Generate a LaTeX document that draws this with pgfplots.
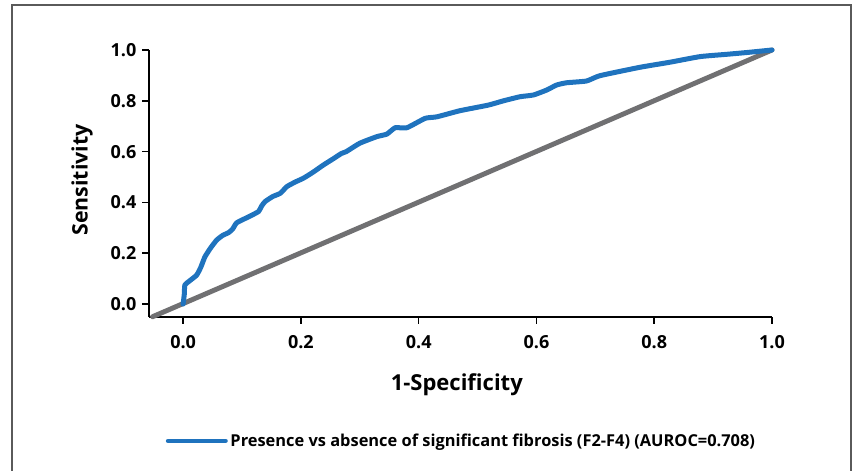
\documentclass[border=0pt]{standalone}
\usepackage{fontspec}
\setmainfont{Open Sans}
\usepackage{pgfplots}
\pgfplotsset{compat=1.18}
\definecolor{rocblue}{RGB}{31,115,190}
\definecolor{refgray}{RGB}{112,112,114}
\definecolor{framegray}{RGB}{90,90,90}
\begin{document}
\begin{tikzpicture}
\useasboundingbox (0,0) rectangle (640.5pt,353.25pt);
% outer frame, open at the bottom
\draw[framegray, line width=0.9pt] (9pt,-5pt) -- (9pt,349.5pt) -- (638.25pt,349.5pt) -- (638.25pt,-5pt);
\begin{axis}[
  at={(111.75pt,115.5pt)}, anchor=south west,
  scale only axis, width=467.25pt, height=200.25pt,
  xmin=-0.058, xmax=1.0, ymin=-0.051, ymax=1.0,
  axis lines*=left,
  axis line style={line width=1.5pt, black},
  xtick={0,0.2,...,1.0}, ytick={0,0.2,...,1.0},
  tick style={line width=1.2pt, black},
  tick align=outside, major tick length=5pt,
  xticklabel style={font=\bfseries\fontsize{13.5}{15}\selectfont, yshift=-5pt},
  yticklabel style={font=\bfseries\fontsize{13.5}{15}\selectfont, xshift=-1pt},
  /pgf/number format/assume math mode=true,
  /pgf/number format/fixed, /pgf/number format/fixed zerofill,
  /pgf/number format/precision=1,
  xlabel={1-Specificity}, ylabel={Sensitivity},
  xlabel style={font=\bfseries\fontsize{16.5}{18}\selectfont, at={(axis description cs:0.494,-0.255)}, anchor=center},
  ylabel style={font=\bfseries\fontsize{16}{18}\selectfont, at={(axis description cs:-0.1075,0.513)}, anchor=center},
  clip=false,
  legend style={at={(axis description cs:0.502,-0.464)}, anchor=center, draw=none,
    font=\bfseries\fontsize{12.3}{15}\selectfont, inner sep=0pt},
  legend cell align=left,
  legend image code/.code={\draw[line width=3.5pt, line cap=round, rocblue] (0pt,0pt) -- (43pt,0pt);},
]
% chance line
\addplot[refgray, line width=3.7pt, line cap=round, forget plot] coordinates {(-0.052,-0.05) (1,1)};
% ROC curve
\addplot[rocblue, line width=3.75pt, line cap=round, line join=round, smooth, tension=0.3] coordinates {
(0.000,0.000) (0.002,0.040) (0.003,0.075) (0.013,0.095) (0.023,0.114) (0.030,0.145)
(0.037,0.186) (0.047,0.222) (0.057,0.252) (0.067,0.270) (0.077,0.281) (0.084,0.295)
(0.091,0.320) (0.110,0.342) (0.128,0.364) (0.133,0.385) (0.139,0.403) (0.152,0.423)
(0.165,0.436) (0.176,0.462) (0.190,0.480) (0.204,0.495) (0.220,0.518) (0.238,0.547)
(0.255,0.572) (0.269,0.593) (0.277,0.600) (0.300,0.633) (0.329,0.659) (0.346,0.669)
(0.360,0.694) (0.380,0.694) (0.411,0.731) (0.431,0.737) (0.470,0.761) (0.518,0.783)
(0.544,0.800) (0.572,0.816) (0.595,0.823) (0.618,0.843) (0.634,0.862) (0.651,0.871)
(0.685,0.878) (0.708,0.899) (0.776,0.932) (0.827,0.952) (0.878,0.974) (0.923,0.983)
(0.957,0.990) (1.000,1.000)};
\addlegendentry{Presence vs absence of significant fibrosis (F2-F4) (AUROC=0.708)}
\end{axis}
\end{tikzpicture}
\end{document}
